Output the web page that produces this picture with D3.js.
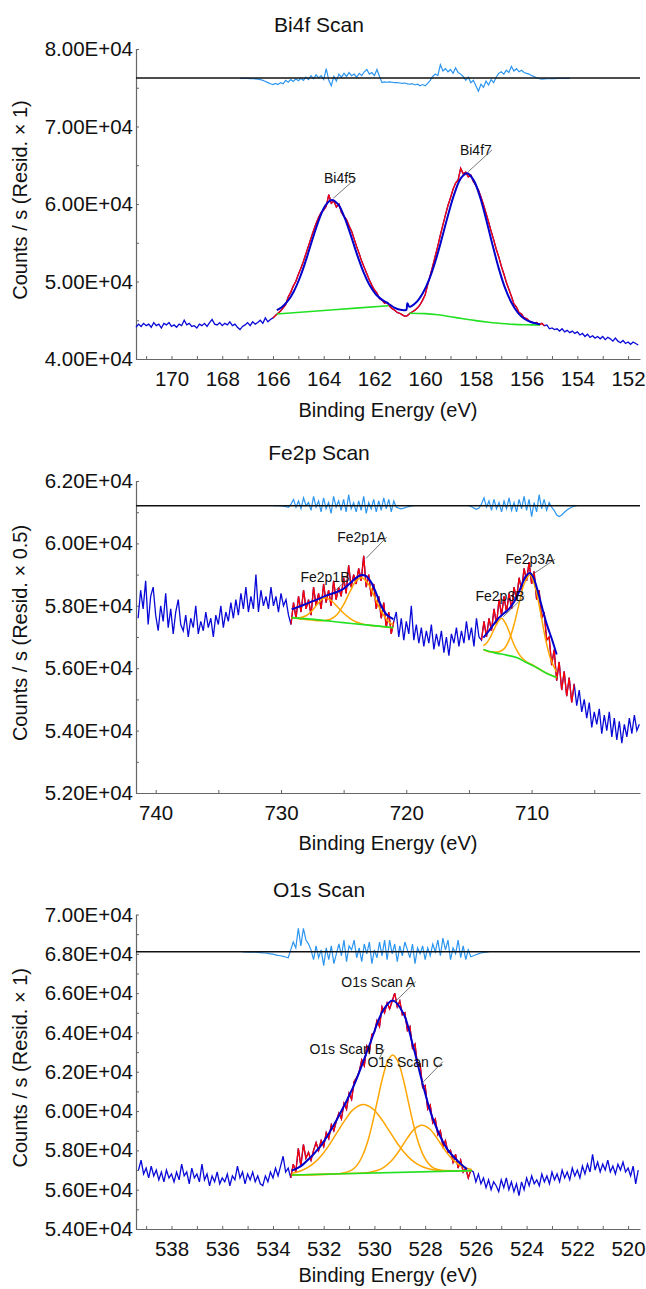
<!DOCTYPE html>
<html>
<head>
<meta charset="utf-8">
<script src="https://cdn.jsdelivr.net/npm/d3@7"></script>
<style>
body { margin: 0; background: #fff; }
svg { display: block; }
svg text { font-family: "Liberation Sans", Arial, sans-serif; fill: #111; }
</style>
</head>
<body>
<div class="panel"></div>
<script>
// all counts in thousands of counts/s, energies in eV

// ---------- Bi4f ----------
const bi4fStart = 171.4, bi4fStep = 0.1;
const bi4fCounts = [
  44.1,44.5,44.2,44.6,44.3,44.5,44.1,44.7,44.3,44.5,
  44.0,44.6,44.4,44.7,44.2,44.4,44.1,44.5,44.3,45.0,
  44.4,44.6,44.2,44.3,44.0,44.5,44.3,44.6,44.2,44.7,
  45.1,44.5,44.4,44.7,44.3,44.6,44.4,44.8,44.3,44.5,
  44.1,43.8,44.2,44.4,44.7,44.3,44.8,44.5,44.7,45.0,
  44.6,45.3,44.8,45.1,
  45.3,45.6,45.9,46.2,46.6,47.0,48.0,48.6,49.4,50.0,
  50.9,51.7,52.6,53.6,54.6,55.6,56.6,57.5,58.3,58.9,
  59.2,59.7,61.2,60.1,60.4,59.6,60.0,58.9,58.4,58.0,
  57.2,56.5,55.5,54.5,53.6,52.6,51.8,51.0,50.2,49.5,
  48.9,48.5,47.8,47.6,47.2,47.3,46.8,46.5,46.3,46.0,
  45.9,45.7,45.5,45.6,45.9,46.1,46.3,46.6,47.0,47.6,
  48.3,49.6,50.8,52.0,53.3,54.6,56.0,57.3,58.6,59.8,
  60.8,61.9,62.7,63.1,64.6,63.9,64.1,63.5,63.7,62.9,
  62.4,61.8,60.9,59.9,58.8,57.7,56.5,55.4,54.2,53.2,
  52.0,51.0,49.9,49.0,48.1,47.1,46.7,46.0,45.8,45.3,
  45.2,44.9,44.8,44.6,44.7,44.4,44.6,44.3,
  44.4,43.9,44.0,43.8,43.9,43.6,43.9,43.5,43.7,43.4,
  43.6,43.3,43.5,43.1,43.3,42.9,43.2,42.8,43.0,42.7,
  42.9,42.6,42.9,42.5,42.8,42.6,42.3,42.7,42.3,42.1,
  42.4,42.0,42.2,41.9,42.2,42.0,41.8
];
const bi4fRegions = [[166.0, 155.3]];
const bi4fEnvelope = [
  [165.85,46.3],[165.68,46.61],[165.43,47.42],[165.18,48.72],[164.93,50.58],[164.68,52.95],
  [164.43,55.58],[164.18,58.03],[163.93,59.83],[163.68,60.52],[163.43,59.96],[163.18,58.28],
  [162.93,55.95],[162.68,53.44],[162.43,51.21],[162.18,49.47],[161.93,48.29],[161.68,47.6],
  [161.43,47.1],[161.2,46.6],[160.98,46.35],[160.8,46.3],[160.74,46.35],[160.7,47.2],
  [160.62,46.75],[160.34,47.35],[160.09,48.52],[159.84,50.27],[159.59,52.68],[159.34,55.58],
  [159.09,58.65],[158.84,61.4],[158.59,63.33],[158.34,63.96],[158.09,63.08],[157.84,60.94],
  [157.59,57.95],[157.34,54.68],[157.09,51.6],[156.84,49.07],[156.59,47.22],[156.34,45.95],
  [156.09,45.19],[155.84,44.77],[155.59,44.56],[155.47,44.5]
];
const bi4fBackground1 = [[165.85,45.8],[163.6,46.35],[161.45,46.88]];
const bi4fBackground2 = [
  [160.62,45.9],[160.0,45.85],[159.5,45.7],[159.0,45.46],[158.5,45.2],[158.0,44.95],
  [157.5,44.75],[157.0,44.58],[156.5,44.47],[156.0,44.42],[155.47,44.39]
];
const bi4fResidStart = 167.3, bi4fResidStep = 0.1;
const bi4fResid = [
  -0.05,-0.05,-0.05,-0.06,-0.08,-0.1,-0.12,-0.15,-0.2,-0.3,
  -0.45,-0.6,-0.75,-0.85,-0.7,-0.85,-0.6,-0.75,-0.3,-0.55,
  -0.2,-0.45,-0.1,-0.35,-0.05,-0.3,0.1,-0.2,0.3,-0.1,
  0.4,0.0,0.3,-0.2,1.2,-0.3,-1.0,0.2,-0.4,0.5,
  0.1,0.6,0.2,0.7,0.3,0.5,0.1,0.6,0.3,0.8,
  1.1,0.5,0.7,0.3,1.1,0.2,-0.6,-0.5,-0.55,-0.5,
  -0.55,-0.6,-0.6,-0.65,-0.7,-0.65,-0.75,-0.8,-0.75,-0.9,
  -0.8,-1.0,-0.85,-1.0,-0.7,-0.3,0.2,0.5,0.3,1.7,
  0.9,1.2,0.8,1.1,0.6,1.3,0.7,0.5,0.2,-0.3,
  0.1,-0.6,-0.3,-1.0,-1.7,-0.8,-1.2,-0.4,-0.9,-0.2,
  -0.6,0.1,0.6,0.8,0.5,1.0,0.7,1.5,0.9,1.2,
  0.8,1.0,0.7,0.6,0.5,0.3,0.2,0.0,-0.1,-0.15,
  -0.12,-0.1,-0.1,-0.08,-0.08,-0.06,-0.06,-0.05,-0.05,-0.05,
  -0.05
];
const bi4fLabels = [
  {text: "Bi4f5", e: 163.36, c: 63.32, tipE: 163.62, tipC: 60.74},
  {text: "Bi4f7", e: 158.0, c: 66.97, tipE: 158.3, tipC: 64.17}
];
const bi4fXTicks = [170,168,166,164,162,160,158,156,154,152];
const bi4fXMinor = [171,169,167,165,163,161,159,157,155,153];
const bi4fYTicks = [40000,50000,60000,70000,80000];
const bi4fYMinor = [45000,55000,65000,75000];

// ---------- Fe2p ----------
const fe2pStart = 741.4, fe2pStep = 0.2;
const fe2pCounts = [
  57.6,58.5,57.9,58.8,57.4,58.3,58.6,57.7,57.2,58.0,
  57.5,58.4,57.3,57.9,57.1,57.8,58.2,57.4,57.2,57.7,
  57.0,57.6,57.3,58.0,57.1,57.5,57.2,57.8,57.3,57.6,
  57.0,57.7,57.4,58.0,57.3,57.8,57.5,58.1,57.6,58.2,
  57.7,58.4,57.9,58.6,57.8,58.3,57.9,59.0,57.8,58.5,
  58.0,58.3,57.9,58.6,58.0,58.3,57.8,58.4,58.0,58.2,
  57.7,
  57.4,58.1,57.6,58.3,57.8,58.5,57.9,58.2,57.7,58.6,
  58.0,58.4,57.9,58.7,58.1,58.5,58.0,58.8,58.2,58.6,
  58.3,58.9,58.4,59.3,58.6,59.0,58.7,59.2,58.8,59.6,
  58.6,59.0,58.3,58.7,57.9,58.3,57.6,58.1,57.3,57.8,
  57.1,57.5,
  57.8,57.0,57.6,56.9,57.5,57.1,58.0,56.9,57.4,56.8,
  57.3,56.7,57.2,56.8,57.4,56.6,57.1,56.7,57.2,56.5,
  57.0,56.4,57.1,56.8,57.3,56.7,57.2,56.8,57.5,56.9,
  57.3,56.7,57.6,57.0,
  56.9,57.5,57.0,57.6,57.2,57.9,57.4,58.2,57.7,58.3,
  57.8,58.4,57.9,58.6,58.2,58.9,58.5,59.2,58.8,59.4,
  58.7,59.1,58.2,58.5,57.6,57.8,56.9,57.0,56.1,56.6,
  55.6,56.2,55.3,55.9,55.1,55.7,54.9,55.5,
  54.8,55.3,54.6,55.0,54.4,54.9,54.1,54.6,54.2,54.7,
  53.9,54.5,54.0,54.6,53.8,54.4,53.7,54.3,53.6,54.2,
  53.8,54.4,53.9,54.5,54.0,54.2
];
const fe2pRegions = [[729.2, 721.0], [714.0, 706.6]];
const fe2pEnvelope1 = [
  [729.15,57.89],[728.5,57.98],[728,58.06],[727.5,58.14],[727,58.22],[726.5,58.31],
  [726,58.38],[725.5,58.45],[725,58.55],[724.5,58.72],[724,58.9],[723.56,58.99],
  [723.2,58.95],[722.8,58.75],[722.4,58.4],[722,58.0],[721.6,57.73],[721.04,57.57]
];
const fe2pEnvelope2 = [
  [713.85,56.98],[713.4,57.2],[713,57.42],[712.6,57.62],[712.2,57.76],[711.8,57.9],
  [711.4,58.12],[711,58.45],[710.7,58.75],[710.4,58.98],[710.13,59.05],[709.9,58.95],
  [709.6,58.6],[709.3,58.15],[709,57.7],[708.7,57.3],[708.4,56.95],[708,56.44]
];
const fe2pBackground1 = [[729.15,57.62],[727,57.55],[725,57.46],[723,57.38],[721.04,57.3]];
const fe2pBackground2 = [
  [713.85,56.6],[713,56.5],[712,56.42],[711.2,56.34],[710.5,56.2],[709.6,56.02],
  [709,55.88],[708.5,55.78],[708,55.7]
];
const fe2p1B = [
  [729.15,57.62],[728.5,57.62],[728,57.68],[727.5,57.85],[727,58.1],[726.5,58.26],
  [726,58.17],[725.5,57.97],[725,57.76],[724.5,57.6],[724,57.48],[723.5,57.42],
  [723,57.38],[722,57.34],[721.04,57.3]
];
const fe2p1A = [
  [729.15,57.62],[728,57.56],[727,57.52],[726.5,57.53],[726,57.58],[725.5,57.73],
  [725,58.04],[724.5,58.45],[724,58.8],[723.56,58.9],[723,58.68],[722.5,58.25],
  [722,57.83],[721.5,57.53],[721.04,57.38]
];
const fe2p3B = [
  [713.85,56.72],[713.6,56.8],[713.3,56.99],[713,57.24],[712.7,57.48],[712.39,57.6],
  [712.1,57.45],[711.8,57.18],[711.5,56.85],[711.2,56.59],[710.9,56.39],[710.5,56.23],
  [710,56.12],[709,55.88],[708,55.7]
];
const fe2p3A = [
  [713.85,56.6],[713.4,56.53],[713,56.52],[712.6,56.53],[712.2,56.62],[711.8,56.9],
  [711.4,57.4],[711,58.07],[710.6,58.7],[710.13,58.99],[709.7,58.58],[709.3,57.81],
  [708.9,56.96],[708.5,56.32],[708,55.87]
];
const fe2pResid1Start = 730.6, fe2pResid1 = [
  0,0,0,-0.01,-0.02,-0.03,-0.05,0.05,0.2,-0.05,
  0.15,-0.1,0.25,0.0,0.1,-0.15,0.3,-0.05,0.15,-0.2,
  0.25,-0.1,0.1,-0.25,0.3,-0.05,0.15,-0.15,0.2,-0.2,
  0.35,-0.1,0.1,-0.2,0.15,-0.15,0.3,-0.25,0.1,-0.1,
  0.2,-0.2,0.15,-0.15,0.25,-0.1,0.2,-0.2,0.15,-0.05,
  -0.08,-0.1,-0.08,-0.05,-0.03,-0.01,0
];
const fe2pResid2Start = 715.0, fe2pResid2 = [
  0,-0.03,-0.08,-0.12,-0.08,0.05,0.25,-0.05,0.15,-0.15,
  0.2,-0.1,0.1,-0.2,0.15,-0.1,0.25,-0.15,0.1,-0.2,
  0.2,-0.1,0.3,-0.15,0.2,-0.35,0.1,-0.2,0.35,-0.1,
  0.2,-0.15,0.1,-0.05,-0.15,-0.3,-0.35,-0.3,-0.22,-0.15,
  -0.09,-0.05,-0.02,0
];
const fe2pLabels = [
  {text: "Fe2p1A", e: 723.56, c: 60.2, tipE: 723.21, tipC: 59.52},
  {text: "Fe2p1B", e: 726.49, c: 58.91, tipE: 725.61, tipC: 58.51},
  {text: "Fe2p3A", e: 710.13, c: 59.49, tipE: 709.99, tipC: 58.99},
  {text: "Fe2p3B", e: 712.52, c: 58.31, tipE: 712.26, tipC: 57.65}
];
const fe2pXTicks = [740,730,720,710];
const fe2pXMinor = [735,725,715,705];
const fe2pYTicks = [52000,54000,56000,58000,60000,62000];
const fe2pYMinor = [53000,55000,57000,59000,61000];

// ---------- O1s ----------
const o1sStart = 539.3, o1sStep = 0.1;
const o1sCounts = [
  57.0,57.5,56.8,57.1,56.6,57.2,56.7,57.0,56.5,56.9,
  56.4,57.0,56.6,56.8,56.4,56.9,56.5,57.3,56.7,56.9,
  56.3,57.1,56.6,56.8,56.4,57.3,56.5,56.8,56.2,56.7,
  56.4,56.9,56.3,56.6,56.4,56.8,56.2,56.7,56.5,57.2,
  56.6,56.9,56.3,56.8,56.5,56.9,56.4,56.7,56.3,56.2,
  56.7,56.4,56.9,56.6,57.1,56.7,57.2,57.7,56.9,57.1,
  56.6,57.3,56.9,58.1,57.2,58.3,57.6,57.9,57.5,58.0,
  58.4,58.0,58.5,58.2,58.9,58.6,59.3,59.0,59.5,59.9,
  59.6,60.4,60.1,60.9,60.6,61.5,61.7,62.0,62.6,62.3,
  63.3,63.0,63.9,64.0,64.6,64.3,65.3,65.0,65.5,65.2,
  65.6,66.0,65.3,65.6,64.9,65.0,64.1,64.3,63.2,63.4,
  62.3,62.4,61.2,61.3,60.1,60.3,59.4,59.6,58.8,59.0,
  58.2,58.5,57.9,58.0,57.4,57.8,57.1,57.5,56.9,57.1,
  56.6,57.0,
  56.9,56.4,56.8,56.3,56.6,56.1,56.5,56.0,56.4,56.2,
  55.9,56.5,56.1,56.6,56.0,56.4,55.9,56.3,55.7,56.4,
  56.0,56.6,56.2,56.7,56.3,56.5,56.2,56.8,56.4,56.7,
  56.3,56.9,56.5,56.8,56.4,57.0,56.6,56.9,56.5,57.1,
  56.7,57.0,56.6,57.2,56.8,57.3,56.9,57.8,57.0,57.4,
  56.9,57.3,57.0,57.5,56.9,57.2,56.8,57.3,57.0,57.4,
  56.9,57.1,56.7,57.2,56.3,57.0
];
const o1sRegions = [[533.3, 526.2]];
const o1sEnvelope = [
  [533.26,56.97],[533.0,57.12],[532.8,57.3],[532.14,58.19],[531.49,59.55],[530.83,61.24],
  [530.17,63.45],[529.65,65.14],[529.28,65.62],[528.86,64.97],[528.47,63.28],[528.07,61.24],
  [527.68,59.55],[527.15,58.1],[526.62,57.34],[526.35,57.04]
];
const o1sBackground = [[533.26,56.75],[526.16,56.97]];
const o1sA = [
  [533.26,56.75],[531.28,56.84],[530.88,57.01],[530.68,57.25],[530.48,57.7],[530.28,58.39],
  [530.08,59.37],[529.88,60.54],[529.68,61.68],[529.48,62.53],[529.28,62.85],[529.08,62.54],
  [528.88,61.71],[528.68,60.57],[528.48,59.42],[528.28,58.45],[528.08,57.77],[527.88,57.34],
  [527.68,57.11],[527.28,56.97],[526.16,56.97]
];
const o1sB = [
  [533.26,56.83],[532.94,56.94],[532.64,57.12],[532.34,57.4],[532.04,57.82],[531.74,58.36],
  [531.44,58.98],[531.14,59.58],[530.84,60.07],[530.44,60.33],[530.04,60.09],[529.74,59.62],
  [529.44,59.04],[529.14,58.44],[528.84,57.92],[528.54,57.52],[528.24,57.25],[527.94,57.09],
  [527.64,57.0],[527.24,56.97],[526.16,56.97]
];
const o1sC = [
  [533.26,56.75],[530.53,56.85],[530.23,56.88],[529.93,56.96],[529.63,57.14],[529.33,57.47],
  [529.03,57.97],[528.73,58.57],[528.43,59.08],[528.13,59.28],[527.83,59.1],[527.53,58.61],
  [527.23,58.03],[526.93,57.55],[526.63,57.24],[526.33,57.08],[526.16,57.03]
];
const o1sResidStart = 535.2, o1sResidStep = 0.1;
const o1sResid = [
  0,0,-0.01,-0.01,-0.02,-0.02,-0.03,-0.04,-0.05,-0.06,
  -0.08,-0.1,-0.12,-0.15,-0.18,-0.2,-0.23,-0.26,-0.3,0.1,
  0.5,0.2,1.2,0.3,1.2,0.6,0.4,0.1,-0.4,0.3,
  -0.3,0.1,-0.7,0.2,-0.4,0.3,-0.6,-0.1,0.4,-0.2,
  0.6,-0.5,0.3,0.1,0.6,-0.3,0.2,-0.5,0.4,-0.1,
  0.5,-0.6,0.1,-0.3,0.5,-0.2,0.6,-0.4,0.6,-0.1,
  0.4,-0.5,0.3,-0.2,0.5,0.1,-0.3,0.4,-0.6,0.2,
  -0.1,0.3,-0.4,0.2,-0.2,0.4,0.0,0.6,-0.2,0.7,
  0.1,0.6,-0.4,0.2,-0.1,0.6,-0.3,0.3,-0.4,0.1,
  -0.25,-0.2,-0.15,-0.1,-0.06,-0.03,-0.01,0
];
const o1sLabels = [
  {text: "O1s Scan A", e: 529.85, c: 66.58, tipE: 529.19, tipC: 65.56},
  {text: "O1s Scan B", e: 531.09, c: 63.14, tipE: 529.82, tipC: 62.65},
  {text: "O1s Scan C", e: 528.79, c: 62.51, tipE: 528.13, tipC: 61.41}
];
const o1sXTicks = [538,536,534,532,530,528,526,524,522,520];
const o1sXMinor = [539,537,535,533,531,529,527,525,523,521];
const o1sYTicks = [54000,56000,58000,60000,62000,64000,66000,68000,70000];
const o1sYMinor = [55000,57000,59000,61000,63000,65000,67000,69000];

// ---------- drawing ----------
const width = 646;
const height = 1289;
const left = 136, right = 640;
const font = "'Liberation Sans', Arial, sans-serif";

const svg = d3.select(".panel")
  .append("svg")
  .attr("width", width)
  .attr("height", height);

function seriesFrom(start, step, values){
  return values.map((v, i) => [+(start - i * step).toFixed(3), v]);
}

function sci(d){
  return (d / 10000).toFixed(2) + "E+04";
}

function drawPanel(cfg){
  const x = d3.scaleLinear().domain(cfg.xDomain).range([left, right]);
  const y = d3.scaleLinear().domain(cfg.yDomain).range([cfg.bottom, cfg.top]);
  const g = svg.append("g");

  const raw = d3.line().x(d => x(d[0])).y(d => y(d[1] * 1000));
  const smooth = d3.line().curve(d3.curveCatmullRom.alpha(0.5))
    .x(d => x(d[0])).y(d => y(d[1] * 1000));

  // axes
  const yAxis = d3.axisLeft(y).tickValues(cfg.yTicks).tickFormat(sci)
    .tickSize(-3).tickSizeOuter(0).tickPadding(3);
  const ya = g.append("g").attr("transform", `translate(${left},0)`).call(yAxis);
  g.append("g").attr("transform", `translate(${left},0)`)
    .call(d3.axisLeft(y).tickValues(cfg.yMinor).tickFormat("").tickSize(-3))
    .call(s => s.select(".domain").remove());

  const xAxis = d3.axisBottom(x).tickValues(cfg.xTicks).tickFormat(d3.format("d"))
    .tickSize(-3).tickSizeOuter(0).tickPadding(12);
  const xa = g.append("g").attr("transform", `translate(0,${cfg.bottom})`).call(xAxis);
  g.append("g").attr("transform", `translate(0,${cfg.bottom})`)
    .call(d3.axisBottom(x).tickValues(cfg.xMinor).tickFormat("").tickSize(-3))
    .call(s => s.select(".domain").remove());

  g.selectAll(".domain").attr("stroke", "#666").attr("stroke-width", 1.2);
  g.selectAll(".tick line").attr("stroke", "#666");
  [ya, xa].forEach(a => a.attr("font-family", font).attr("font-size", 20.5)
    .selectAll("text").attr("fill", "#111"));

  g.append("text")
    .attr("x", 319).attr("y", cfg.titleY).attr("dy", "0.35em")
    .attr("text-anchor", "middle").attr("font-size", 21)
    .text(cfg.title);

  g.append("text")
    .attr("x", (left + right) / 2).attr("y", cfg.bottom + cfg.xLabelGap).attr("dy", "0.35em")
    .attr("text-anchor", "middle").attr("font-size", 20)
    .text("Binding Energy (eV)");

  g.append("text")
    .attr("transform", `translate(20,${(cfg.top + cfg.bottom) / 2 - 4}) rotate(-90)`)
    .attr("dy", "0.35em").attr("text-anchor", "middle").attr("font-size", 20)
    .text(cfg.yLabel);

  // raw data: blue outside, red inside fit regions
  const points = seriesFrom(cfg.start, cfg.step, cfg.counts);
  g.append("path").attr("d", raw(points))
    .attr("fill", "none").attr("stroke", "#0a0ad8").attr("stroke-width", 1.3);
  cfg.regions.forEach(r => {
    const inside = points.filter(p => p[0] <= r[0] + 1e-6 && p[0] >= r[1] - 1e-6);
    g.append("path").attr("d", raw(inside))
      .attr("fill", "none").attr("stroke", "#ff0000").attr("stroke-width", 1.3);
  });

  cfg.components.forEach(c => {
    g.append("path").attr("d", smooth(c))
      .attr("fill", "none").attr("stroke", "#ffa500").attr("stroke-width", 1.5);
  });
  cfg.backgrounds.forEach(b => {
    g.append("path").attr("d", smooth(b))
      .attr("fill", "none").attr("stroke", "#22e022").attr("stroke-width", 1.6);
  });
  cfg.envelopes.forEach(e => {
    g.append("path").attr("d", smooth(e))
      .attr("fill", "none").attr("stroke", "#0000cc").attr("stroke-width", 2);
  });

  // residuals around their base line
  cfg.residuals.forEach(r => {
    const pts = seriesFrom(r.start, r.step, r.values).map(p => [p[0], cfg.residBase + p[1]]);
    g.append("path").attr("d", raw(pts))
      .attr("fill", "none").attr("stroke", "#2b95f0").attr("stroke-width", 1.2);
  });
  g.append("line")
    .attr("x1", left).attr("x2", right)
    .attr("y1", y(cfg.residBase * 1000)).attr("y2", y(cfg.residBase * 1000))
    .attr("stroke", "#111").attr("stroke-width", 1.5);

  // peak labels with leader lines
  cfg.labels.forEach(l => {
    const t = g.append("text")
      .attr("x", x(l.e)).attr("y", y(l.c * 1000)).attr("dy", "0.35em")
      .attr("text-anchor", "middle").attr("font-size", 14).attr("fill", "#222")
      .text(l.text);
    const b = t.node().getBBox();
    g.append("line")
      .attr("x1", b.x + b.width).attr("y1", b.y + b.height / 2)
      .attr("x2", x(l.tipE)).attr("y2", y(l.tipC * 1000))
      .attr("stroke", "#555").attr("stroke-width", 0.8);
  });
}

drawPanel({
  title: "Bi4f Scan", titleY: 25, yLabel: "Counts / s  (Resid. × 1)", xLabelGap: 51,
  top: 49, bottom: 359, xDomain: [171.4, 151.53], yDomain: [40000, 80000],
  xTicks: bi4fXTicks, xMinor: bi4fXMinor, yTicks: bi4fYTicks, yMinor: bi4fYMinor,
  start: bi4fStart, step: bi4fStep, counts: bi4fCounts, regions: bi4fRegions,
  envelopes: [bi4fEnvelope], backgrounds: [bi4fBackground1, bi4fBackground2], components: [],
  residBase: 76.26,
  residuals: [{start: bi4fResidStart, step: bi4fResidStep, values: bi4fResid}],
  labels: bi4fLabels
});

drawPanel({
  title: "Fe2p Scan", titleY: 453, yLabel: "Counts / s  (Resid. × 0.5)", xLabelGap: 50,
  top: 481, bottom: 793, xDomain: [741.57, 701.35], yDomain: [52000, 62000],
  xTicks: fe2pXTicks, xMinor: fe2pXMinor, yTicks: fe2pYTicks, yMinor: fe2pYMinor,
  start: fe2pStart, step: fe2pStep, counts: fe2pCounts, regions: fe2pRegions,
  envelopes: [fe2pEnvelope1, fe2pEnvelope2], backgrounds: [fe2pBackground1, fe2pBackground2],
  components: [fe2p1B, fe2p1A, fe2p3B, fe2p3A],
  residBase: 61.21,
  residuals: [
    {start: fe2pResid1Start, step: fe2pStep, values: fe2pResid1},
    {start: fe2pResid2Start, step: fe2pStep, values: fe2pResid2}
  ],
  labels: fe2pLabels
});

drawPanel({
  title: "O1s Scan", titleY: 890, yLabel: "Counts / s  (Resid. × 1)", xLabelGap: 46,
  top: 914.5, bottom: 1229, xDomain: [539.4, 519.53], yDomain: [54000, 70000],
  xTicks: o1sXTicks, xMinor: o1sXMinor, yTicks: o1sYTicks, yMinor: o1sYMinor,
  start: o1sStart, step: o1sStep, counts: o1sCounts, regions: o1sRegions,
  envelopes: [o1sEnvelope], backgrounds: [o1sBackground], components: [o1sA, o1sB, o1sC],
  residBase: 68.1,
  residuals: [{start: o1sResidStart, step: o1sResidStep, values: o1sResid}],
  labels: o1sLabels
});
</script>
</body>
</html>
